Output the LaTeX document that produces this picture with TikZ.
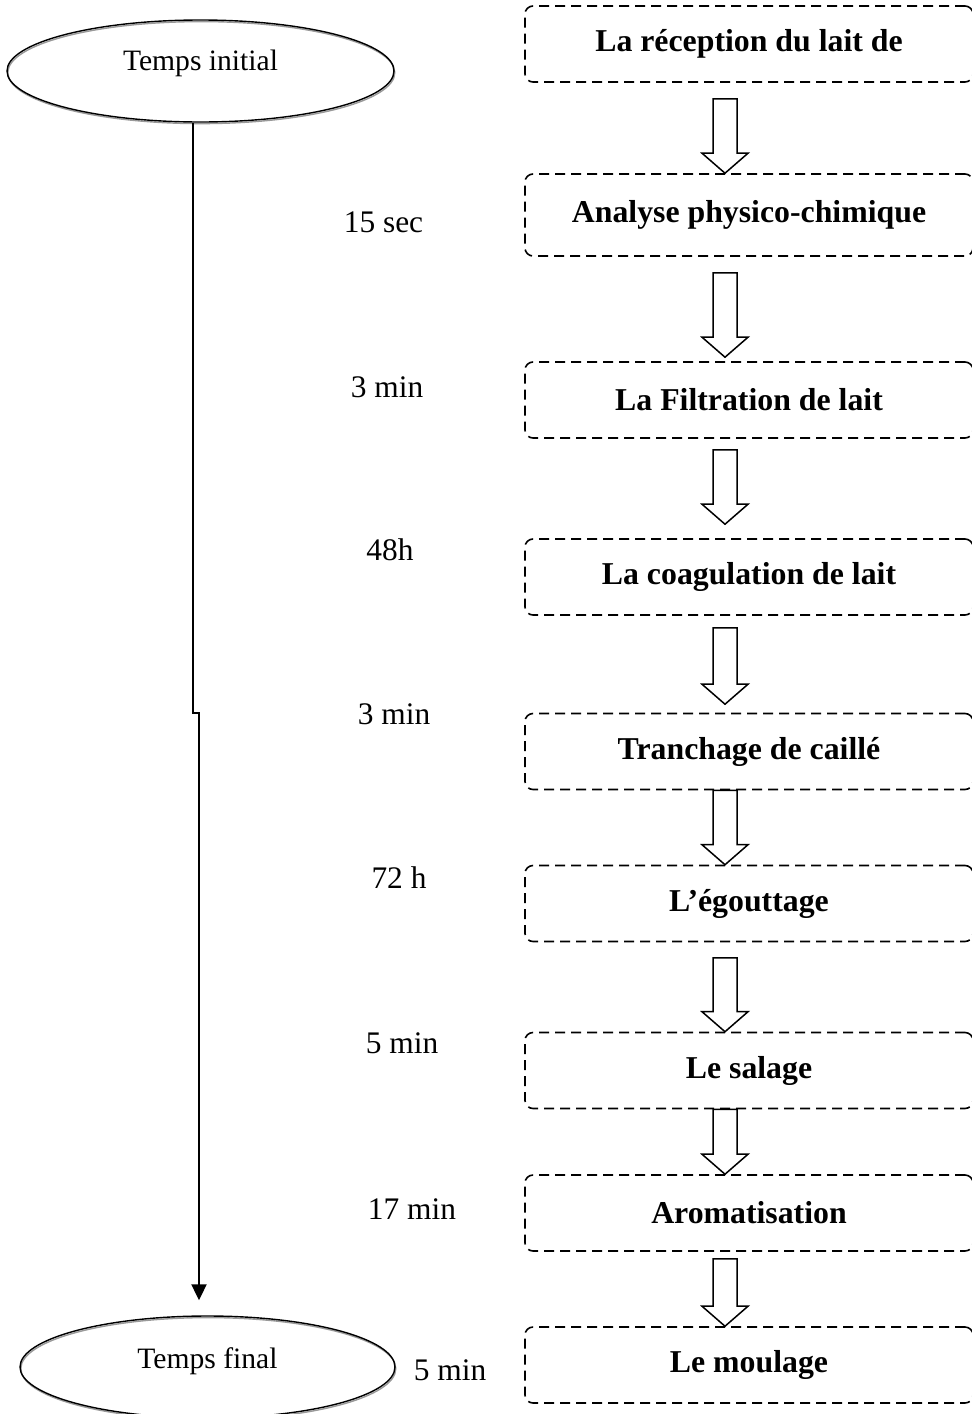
\documentclass[tikz,border=0pt]{standalone}
\usepackage{fontspec}
\setmainfont{Liberation Serif}
\usepackage{tikz}
\usetikzlibrary{shapes.geometric, arrows.meta, calc, shadows}
\tikzset{
	etape/.style={draw, thick, dashed, dash pattern=on 5pt off 3pt, rounded corners=4pt, minimum width=224pt, minimum height=38pt, font=\fontsize{15.9}{19}\selectfont\bfseries},
	temps/.style={ellipse, draw, line width=0.7pt, minimum width=193.5pt, minimum height=51pt, font=\fontsize{14.8}{18}\selectfont, drop shadow={shadow xshift=0.4pt, shadow yshift=-0.8pt, fill=none, draw=black!40, opacity=1}},
	duree/.style={inner sep=0pt, font=\fontsize{15.7}{19}\selectfont},
	fleche/.style={draw, line width=0.75pt, fill=white, line join=miter},
	axe/.style={line width=1pt, -{Triangle[length=8pt, width=7.5pt]}}
}
% grosse fleche creuse entre deux etapes : #3, #4 = ecarts
\newcommand{\grosfleche}[4]{%
	\draw[fleche] ($(#1.south)+(-36,#3)$) -- ($(#2.north)+(-36,-#4-20)$) -- ($(#2.north)+(-47,-#4-20)$) -- ($(#2.north)+(-24,-#4)$) -- ($(#2.north)+(-1,-#4-20)$) -- ($(#2.north)+(-12,-#4-20)$) -- ($(#1.south)+(-12,#3)$) -- cycle;}

\begin{document}
\begin{tikzpicture}[x=0.5pt, y=-0.5pt]
	\useasboundingbox (0,0) rectangle (971,1414);
	% les etapes
	\node[etape] at (749,44) (Reception) {La réception du lait de};
	\node[etape, minimum height=41pt] at (749,215) (Analyse) {Analyse physico-chimique};
	\node[etape] at (749,400) (Filtration) {La Filtration de lait};
	\node[etape] at (749,577) (Coagulation) {La coagulation de lait};
	\node[etape] at (749,751.5) (Tranchage) {Tranchage de caillé};
	\node[etape] at (749,903.5) (Egouttage) {L’égouttage};
	\node[etape] at (749,1070.5) (Salage) {Le salage};
	\node[etape] at (749,1213) (Aromatisation) {Aromatisation};
	\node[etape] at (749,1365) (Moulage) {Le moulage};
	% les fleches
	\grosfleche{Reception}{Analyse}{16}{0}
	\grosfleche{Analyse}{Filtration}{16}{4}
	\grosfleche{Filtration}{Coagulation}{11}{14}
	\grosfleche{Coagulation}{Tranchage}{12}{8.5}
	\grosfleche{Tranchage}{Egouttage}{0}{0}
	\grosfleche{Egouttage}{Salage}{15.5}{0}
	\grosfleche{Salage}{Aromatisation}{0}{0}
	\grosfleche{Aromatisation}{Moulage}{7}{0}
	% l'axe du temps
	\node[temps] at (200.5,71) (Initial) {\raisebox{11pt}{Temps initial}};
	\node[temps, minimum width=187.5pt] at (207.5,1367) (Final) {\raisebox{9pt}{Temps final}};
	\draw[axe] ($(Initial.south)+(-7.5,0)$) -- ++(0,590) -- ++(6,0) -- ($(Final.north)+(-8.5,-15)$);
	% les durees
	\node[duree] at (383.5,222) (d1) {15 sec};
	\node[duree] at (387,387) (d2) {3 min};
	\node[duree] at (390,550) (d3) {48h};
	\node[duree] at (394,714) (d4) {3 min};
	\node[duree] at (399,878) (d5) {72 h};
	\node[duree] at (402,1043) (d6) {5 min};
	\node[duree] at (412,1209) (d7) {17 min};
	\node[duree] at (450,1370) (d8) {5 min};
\end{tikzpicture}
\end{document}
